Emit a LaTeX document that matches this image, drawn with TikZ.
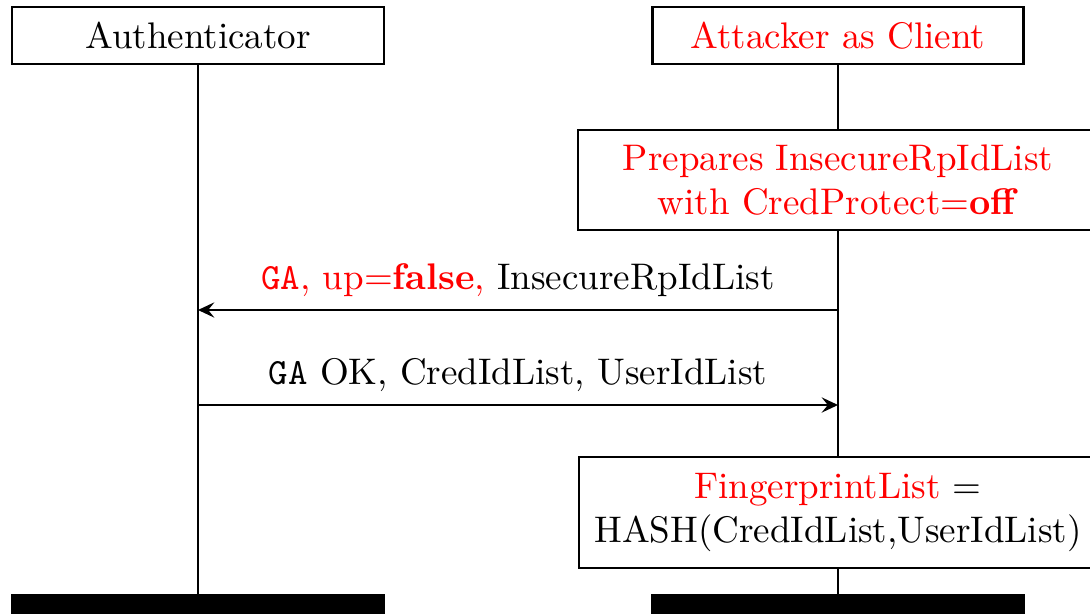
\documentclass[tikz,border=0pt]{standalone}
\usetikzlibrary{arrows.meta}
% one drawing unit = one pixel of the 1090 x 613 frame
\newcommand\pxu{0.2755pt}
\begin{document}
\begin{tikzpicture}[x=0.2755pt,y=-0.2755pt,
  every node/.style={font=\fontsize{10.2pt}{12.3pt}\selectfont},
  actorbox/.style={draw,line width=0.8pt,fill=white,inner sep=0pt,
    minimum height=57*\pxu},
  stepbox/.style={draw,line width=0.8pt,fill=white,inner sep=0pt,align=center},
  endbar/.style={draw,fill=black,line width=0.8pt,inner sep=0pt,
    minimum height=57*\pxu},
  life/.style={line width=0.6pt},
  msg/.style={line width=0.6pt,-{Stealth[length=4.5pt,width=4.2pt,inset=1.7pt]}}]
  \useasboundingbox (0,0) rectangle (1090,613);
  \fill[white] (0,0) rectangle (1090,613);
  \clip (0,0) rectangle (1090,613);

  % participants
  \node[actorbox,minimum width=372*\pxu] (auth) at (198,35.5) {Authenticator};
  \node[actorbox,minimum width=371*\pxu,text=red] (att) at (838,35.5) {Attacker as Client};

  % actions on the client side
  \node[stepbox,minimum width=520*\pxu,minimum height=100*\pxu,text=red] (prep)
    at (838,180) {Prepares InsecureRpIdList\\with CredProtect=\textbf{off}};
  \node[stepbox,minimum width=518*\pxu,minimum height=111*\pxu] (fp)
    at (838,512.5) {\textcolor{red}{FingerprintList} =\\HASH(CredIdList,UserIdList)};

  % lifeline ends
  \node[endbar,minimum width=372*\pxu] (authend) at (198,624) {};
  \node[endbar,minimum width=371*\pxu] (attend) at (838,624) {};

  % lifelines
  \draw[life] (auth.south) -- (authend.north);
  \draw[life] (att.south) -- (prep.north);
  \draw[life] (prep.south) -- (fp.north);
  \draw[life] (fp.south) -- (attend.north);

  % messages
  \coordinate (m1s) at (838,310);
  \coordinate (m1e) at (198,310);
  \coordinate (m2s) at (198,405);
  \coordinate (m2e) at (838,405);
  \draw[msg] (m1s) -- node[above]{{\color{red}\texttt{GA}, up=\textbf{false},} InsecureRpIdList} (m1e);
  \draw[msg] (m2s) -- node[above]{\texttt{GA} OK, CredIdList, UserIdList} (m2e);
\end{tikzpicture}
\end{document}
